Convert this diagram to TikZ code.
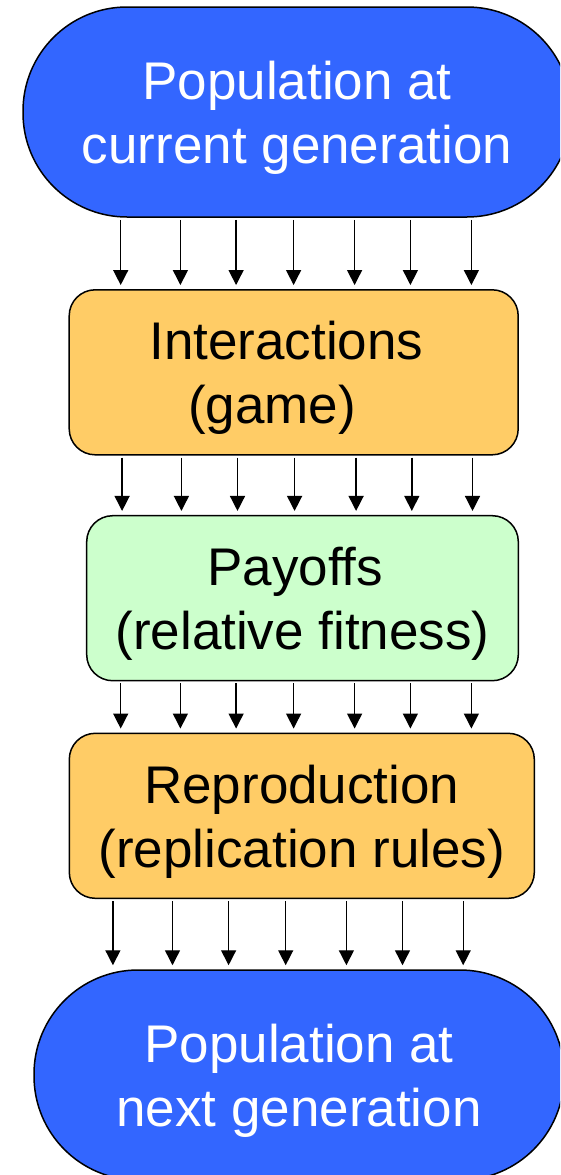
\documentclass[tikz,border=0pt]{standalone}
\usepackage{fontspec}
\setmainfont{Liberation Sans}
\usetikzlibrary{arrows.meta}

\definecolor{popblue}{HTML}{3366FF}
\definecolor{stagegold}{HTML}{FFCC66}
\definecolor{paygreen}{HTML}{CCFFCC}

% two centred lines, 64pt apart, block centred on the first baseline + 19.2pt
\newcommand\twolines[2]{\vbox{\offinterlineskip\halign{\hfil##\hfil\cr
  \rule[-12.8pt]{0pt}{64pt}#1\cr
  \rule[-12.8pt]{0pt}{64pt}#2\cr}}}

\tikzset{
  stadium/.style={draw=black, line width=1.5pt, fill=popblue, text=white,
    rounded corners=104pt, minimum height=210pt, inner sep=0pt},
  stagebox/.style={draw=black, line width=1.5pt, rounded corners=26pt,
    minimum height=165pt, inner sep=0pt},
  flow/.style={line width=1.4pt, -{Triangle[width=15pt,length=15pt]},
    shorten <=2pt, shorten >=4pt},
  every node/.style={font=\fontsize{53}{64}\selectfont}
}

\begin{document}
\begin{tikzpicture}[x=1pt,y=-1pt]
  \clip (0,0) rectangle (560,1175);

  % stages of one generation
  \node[stadium, minimum width=548pt] (now) at (297,112)
    {\twolines{Population at}{current generation}};
  \node[stagebox, fill=stagegold, minimum width=449pt] (game) at (293.7,372.3)
    {\twolines{Interactions\kern14.6pt}{(game)\kern43pt}};
  \node[stagebox, fill=paygreen, minimum width=431.6pt] (payoff) at (302.5,598.2)
    {\twolines{Payoffs\kern14.6pt}{(relative fitness)}};
  \node[stagebox, fill=stagegold, minimum width=465pt] (repro) at (301.8,815.8)
    {\twolines{Reproduction}{(replication rules)}};
  \node[stadium, minimum width=530pt] (next) at (299,1075)
    {\twolines{Population at}{next generation}};

  % parallel flows between stages
  \foreach \x in {120.7,180.4,236.1,293.6,354.6,410.4,471.4}
    \draw[flow] (\x,0 |- now.south) -- (\x,0 |- game.north);
  \foreach \x in {122.1,181.4,237.5,294.6,356.1,411.8,472.5}
    \draw[flow] (\x,0 |- game.south) -- (\x,0 |- payoff.north);
  \foreach \x in {120.7,180.4,236.1,293.6,354.6,410.4,471.4}
    \draw[flow] (\x,0 |- payoff.south) -- (\x,0 |- repro.north);
  \foreach \x in {112.9,172.5,228.6,285.7,346.4,402.5,463.2}
    \draw[flow] (\x,0 |- repro.south) -- (\x,0 |- next.north);
\end{tikzpicture}
\end{document}
